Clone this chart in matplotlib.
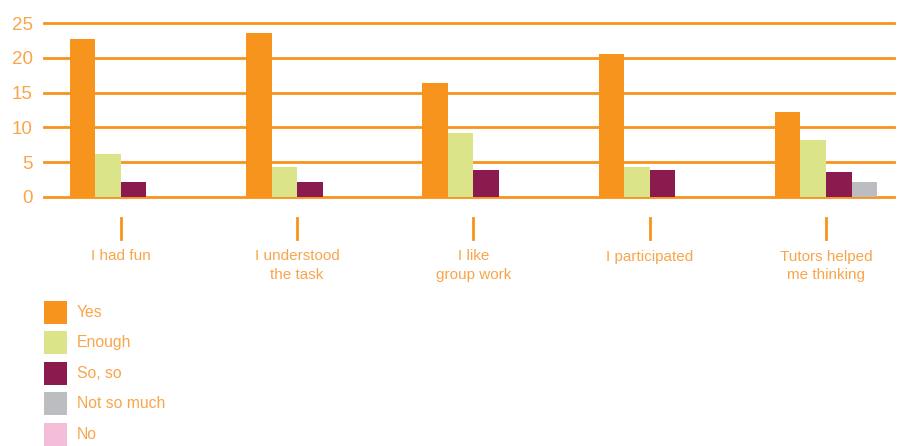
import matplotlib
matplotlib.use("Agg")
import matplotlib.pyplot as plt
import matplotlib.transforms as mtransforms
from matplotlib.patches import Rectangle
import numpy as np

plt.rcParams['font.family'] = ['Liberation Sans Narrow', 'Liberation Sans', 'DejaVu Sans']

# survey answers per question
categories = ["I had fun", "I understood\nthe task", "I like\ngroup work",
              "I participated", "Tutors helped\nme thinking"]
series_names = ["Yes", "Enough", "So, so", "Not so much", "No"]
yes = [22.7, 23.6, 16.4, 20.6, 12.2]
enough = [6.2, 4.3, 9.2, 4.3, 8.2]
so_so = [2.1, 2.1, 3.9, 3.9, 3.6]
not_so_much = [0, 0, 0, 0, 2.1]
no = [0, 0, 0, 0, 0]

colors = ["#F7941D", "#DCE48A", "#8B1A4E", "#BCBDC0", "#F4BED8"]
orange = "#F7941D"
text_orange = "#F9A54B"

fig = plt.figure(figsize=(9.01, 4.46), dpi=100)
W, H = 901, 446
ax = fig.add_axes([44 / W, (H - 196.7) / H, (894 - 44) / W, (196.7 - 23.3) / H])

x = np.arange(len(categories))
width = 0.145
values = [yes, enough, so_so, not_so_much, no]
for i, (vals, col) in enumerate(zip(values, colors)):
    ax.bar(x + (i - 2) * width, vals, width, color=col, align="edge", zorder=3)

ax.set_ylim(0, 25)
ax.set_xlim(-0.436, 4.386)
ax.set_yticks(range(0, 26, 5))
ax.yaxis.grid(True, color=orange, linewidth=2.0, zorder=1)
ax.set_axisbelow(True)
ax.tick_params(axis="y", length=0, pad=8, labelsize=13.5, labelcolor=text_orange)
ax.set_xticks([])
for s in ax.spines.values():
    s.set_visible(False)
for gl in ax.get_ygridlines():
    gl.set_clip_on(False)

# category markers and labels below the zero line
trans = mtransforms.blended_transform_factory(ax.transData, ax.transAxes)
ax_h = 196.7 - 23.3
for xi, label in zip(x, categories):
    ax.plot([xi, xi], [-(218 - 196.7) / ax_h, -(239 - 196.7) / ax_h],
            color=orange, linewidth=2, transform=trans, clip_on=False)
    ax.text(xi, -(249.5 - 196.7) / ax_h, label, transform=trans, ha="center", va="top",
            fontsize=11, color=text_orange, linespacing=1.38)

# legend: colour squares with labels, stacked
for k, (name, col) in enumerate(zip(series_names, colors)):
    top = 301 + k * 30.4
    fig.patches.append(Rectangle((44 / W, 1 - (top + 23) / H), 23 / W, 23 / H,
                                 transform=fig.transFigure, facecolor=col,
                                 edgecolor="none"))
    fig.text(77 / W, 1 - (top + 11.5) / H, name, ha="left", va="center",
             fontsize=11.3, color=text_orange)

fig.savefig("out.png", dpi=100)
